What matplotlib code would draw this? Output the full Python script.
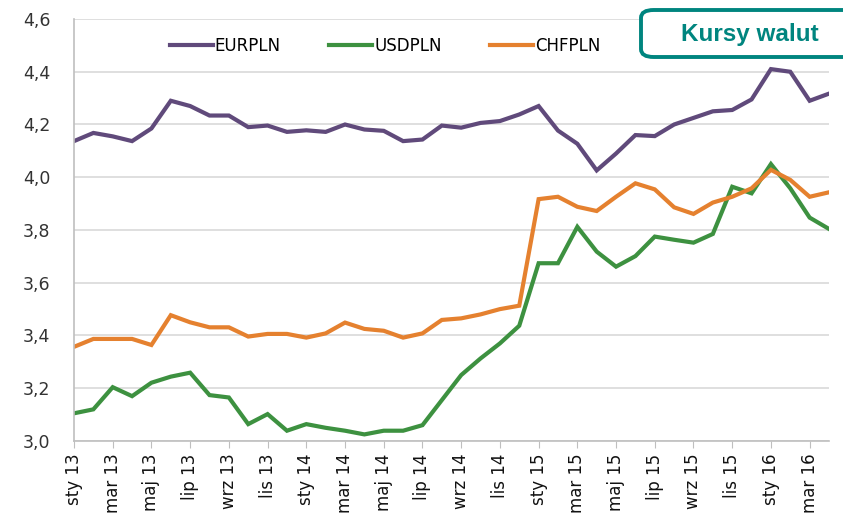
import numpy as np
import matplotlib
matplotlib.use('Agg')
import matplotlib.pyplot as plt
from matplotlib.patches import FancyBboxPatch

# --- Dane: kursy miesieczne sty 2013 - kwi 2016 ---
months = ['sty', 'lut', 'mar', 'kwi', 'maj', 'cze', 'lip', 'sie', 'wrz', 'paz', 'lis', 'gru']
labels = [f"{m} {y}" for y in (13, 14, 15, 16) for m in months][:40]

eurpln = [4.137, 4.168, 4.155, 4.137, 4.185, 4.29, 4.27, 4.234, 4.234, 4.19,
          4.196, 4.172, 4.178, 4.172, 4.20, 4.181, 4.176, 4.137, 4.143, 4.196,
          4.188, 4.206, 4.213, 4.238, 4.27, 4.177, 4.127, 4.026, 4.09, 4.16,
          4.156, 4.20, 4.225, 4.25, 4.255, 4.295, 4.41, 4.40, 4.29, 4.317]
usdpln = [3.105, 3.12, 3.204, 3.17, 3.221, 3.244, 3.259, 3.174, 3.165, 3.064,
          3.102, 3.039, 3.064, 3.05, 3.039, 3.025, 3.039, 3.039, 3.06, 3.155,
          3.25, 3.313, 3.37, 3.437, 3.674, 3.674, 3.812, 3.718, 3.661, 3.701,
          3.775, 3.763, 3.752, 3.785, 3.964, 3.939, 4.05, 3.958, 3.847, 3.804]
chfpln = [3.357, 3.387, 3.387, 3.387, 3.364, 3.477, 3.45, 3.431, 3.431, 3.396,
          3.406, 3.406, 3.392, 3.408, 3.449, 3.425, 3.418, 3.392, 3.408, 3.459,
          3.465, 3.48, 3.50, 3.513, 3.917, 3.926, 3.888, 3.872, 3.926, 3.977,
          3.954, 3.886, 3.861, 3.904, 3.926, 3.958, 4.028, 3.99, 3.926, 3.943]

x = np.arange(len(labels))

fig = plt.figure(figsize=(8.43, 5.22), dpi=100)
ax = fig.add_axes([74/843, 81/522, 755/843, 422/522])

ax.plot(x, eurpln, color='#604A7B', lw=3, label='EURPLN', solid_joinstyle='miter')
ax.plot(x, usdpln, color='#3D9140', lw=3, label='USDPLN', solid_joinstyle='miter')
ax.plot(x, chfpln, color='#E5812F', lw=3, label='CHFPLN', solid_joinstyle='miter')

ax.set_xlim(0, len(labels) - 1)
ax.set_ylim(3.0, 4.6)
yt = np.arange(3.0, 4.61, 0.2)
ax.set_yticks(yt)
ax.set_yticklabels([f"{v:.1f}".replace('.', ',') for v in yt], fontsize=12.5, color='#333333')
ax.set_xticks(x[::2])
ax.set_xticklabels(labels[::2], rotation=90, fontsize=12, color='#111111')
ax.tick_params(axis='y', length=0, pad=17)
ax.tick_params(axis='x', length=5, color='#BFBFBF', pad=4)
ax.grid(axis='y', color='#D9D9D9', lw=1.2)
ax.set_axisbelow(True)
for s in ('top', 'right'):
    ax.spines[s].set_visible(False)
for s in ('left', 'bottom'):
    ax.spines[s].set_color('#BFBFBF')
    ax.spines[s].set_linewidth(1.2)

fig.legend(loc='center', bbox_to_anchor=(385/843, 1 - 46/522), ncol=3, frameon=False,
           fontsize=12, handlelength=2.6, columnspacing=2.9, handletextpad=0.1)

box = FancyBboxPatch((641/843, 1 - 57/522), 230/843, 47/522, transform=fig.transFigure,
                     boxstyle='round,pad=0,rounding_size=0.015', facecolor='white',
                     edgecolor='#00857F', lw=2.8, clip_on=False)
fig.patches.append(box)
fig.text(750/843, 1 - 34/522, 'Kursy walut', color='#00857F', fontsize=17.5, fontweight='bold',
         ha='center', va='center', family=['Liberation Sans Narrow', 'Liberation Sans', 'DejaVu Sans'])

fig.savefig('out.png', dpi=100)
